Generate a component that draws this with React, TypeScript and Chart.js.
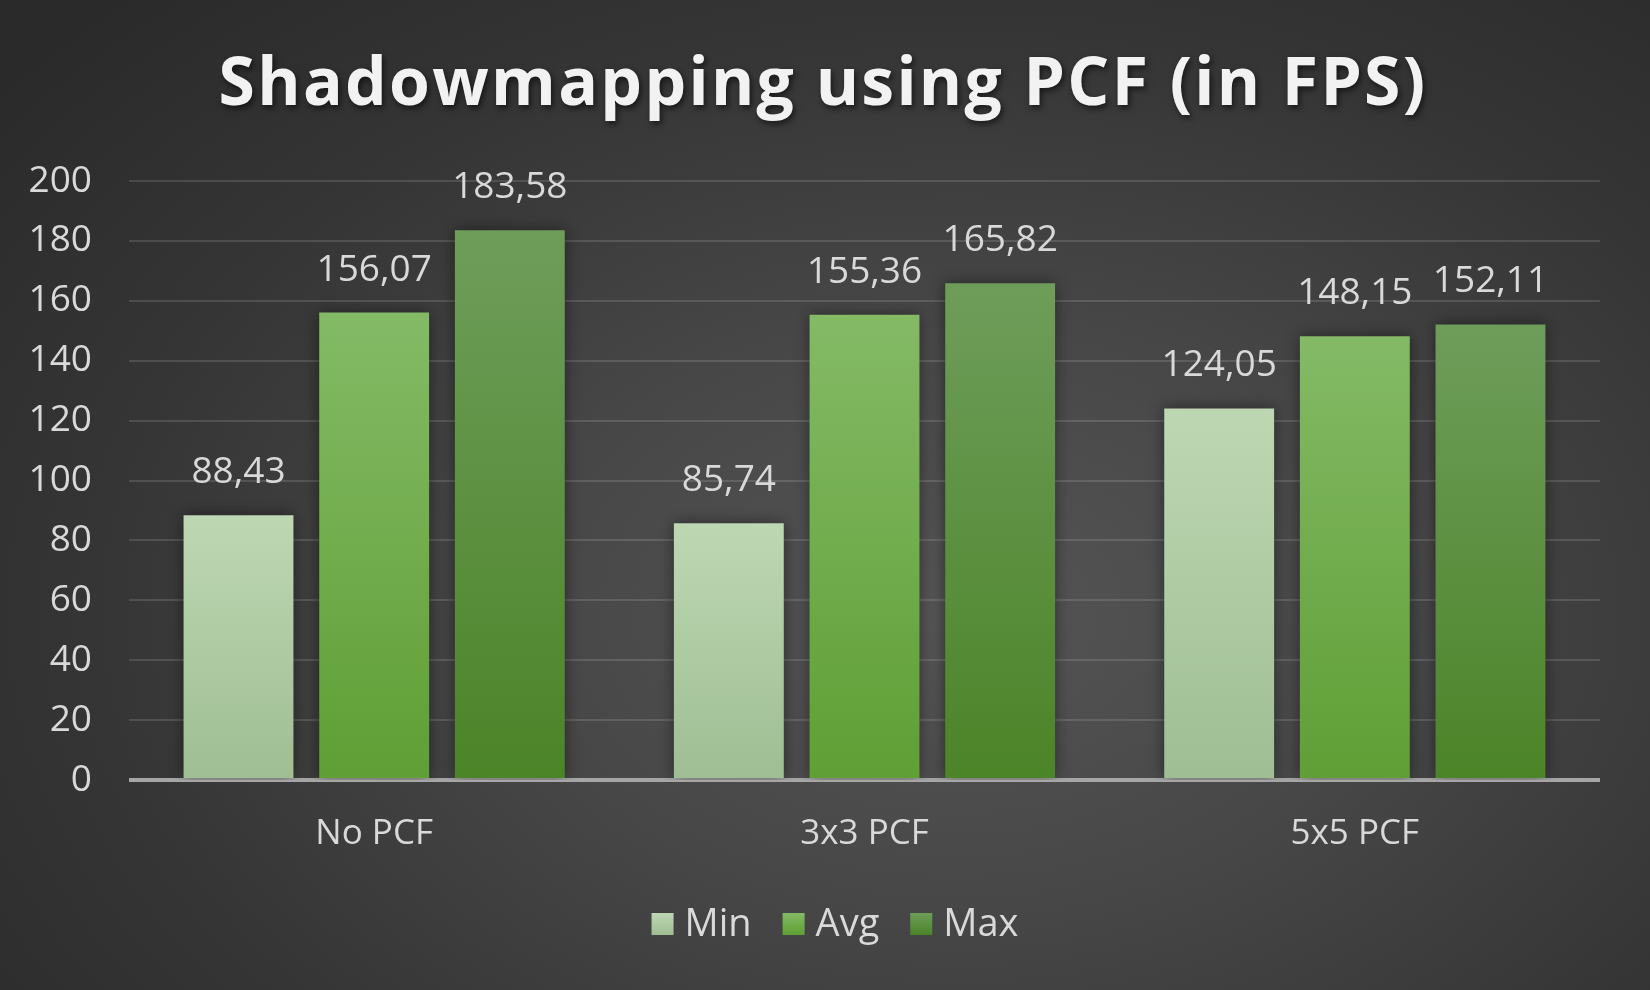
import React, { useEffect, useRef } from "react";
import { Chart, registerables } from "chart.js";

Chart.register(...registerables);

const categories = ["No PCF", "3x3 PCF", "5x5 PCF"];
const minValues = [88.43, 85.74, 124.05];
const avgValues = [156.07, 155.36, 148.15];
const maxValues = [183.58, 165.82, 152.11];
const seriesNames = ["Min", "Avg", "Max"];
const yTicks = [0, 20, 40, 60, 80, 100, 120, 140, 160, 180, 200];
const titleText = "Shadowmapping using PCF (in FPS)";

const FONT = "'Open Sans', 'Noto Sans', sans-serif";
const TEXT = "#d9d9d9";

const gradStops: [string, string][] = [
  ["#bdd7b3", "#9fbe93"],
  ["#84ba66", "#5f9f35"],
  ["#6e9d5a", "#4c8428"],
];

function barFill(idx: number) {
  return (ctx: any) => {
    const chart = ctx.chart;
    const y = chart.scales?.y;
    if (!chart.chartArea || !y || ctx.raw == null) return gradStops[idx][0];
    const top = y.getPixelForValue(ctx.raw);
    const bottom = y.getPixelForValue(0);
    if (!isFinite(top) || !isFinite(bottom) || top === bottom) return gradStops[idx][0];
    const g = chart.ctx.createLinearGradient(0, top, 0, bottom);
    g.addColorStop(0, gradStops[idx][0]);
    g.addColorStop(1, gradStops[idx][1]);
    return g;
  };
}

const shadowPlugin = {
  id: "barShadow",
  beforeDatasetsDraw(chart: any) {
    const c = chart.ctx;
    c.save();
    c.shadowColor = "rgba(0,0,0,0.45)";
    c.shadowBlur = 14;
    c.shadowOffsetX = 0;
    c.shadowOffsetY = 0;
  },
  afterDatasetsDraw(chart: any) {
    chart.ctx.restore();
  },
};

const labelPlugin = {
  id: "valueLabels",
  afterDatasetsDraw(chart: any) {
    const c = chart.ctx;
    c.save();
    c.font = `37px ${FONT}`;
    c.fillStyle = TEXT;
    c.textAlign = "center";
    c.textBaseline = "alphabetic";
    chart.data.datasets.forEach((ds: any, di: number) => {
      const meta = chart.getDatasetMeta(di);
      meta.data.forEach((bar: any, i: number) => {
        const v = ds.data[i];
        const txt = v.toFixed(2).replace(".", ",");
        c.fillText(txt, bar.x, bar.y - 32);
      });
    });
    c.restore();
  },
};

const titlePlugin = {
  id: "spacedTitle",
  afterDraw(chart: any) {
    const c = chart.ctx;
    c.save();
    c.font = `bold 66px ${FONT}`;
    (c as any).letterSpacing = "2.3px";
    c.fillStyle = "#f2f2f2";
    c.textAlign = "center";
    c.textBaseline = "alphabetic";
    c.shadowColor = "rgba(0,0,0,0.6)";
    c.shadowBlur = 6;
    c.shadowOffsetX = 2;
    c.shadowOffsetY = 3;
    c.fillText(titleText, chart.width / 2 - 2, 105);
    c.restore();
  },
};

const legendPlugin = {
  id: "customLegend",
  afterDraw(chart: any) {
    const c = chart.ctx;
    c.save();
    c.font = `38px ${FONT}`;
    const box = 22;
    const gap = 11;
    const spacing = 31;
    const items = chart.data.datasets.map((ds: any, i: number) => ({
      text: ds.label,
      color: gradStops[i],
      w: c.measureText(ds.label).width,
    }));
    const total =
      items.reduce((s: number, it: any) => s + box + gap + it.w, 0) + spacing * (items.length - 1);
    let x = chart.width / 2 + 10 - total / 2;
    const cy = 924;
    c.textBaseline = "middle";
    c.textAlign = "left";
    items.forEach((it: any) => {
      const g = c.createLinearGradient(0, cy - box / 2, 0, cy + box / 2);
      g.addColorStop(0, it.color[0]);
      g.addColorStop(1, it.color[1]);
      c.fillStyle = g;
      c.fillRect(x, cy - box / 2, box, box);
      x += box + gap;
      c.fillStyle = TEXT;
      c.fillText(it.text, x, cy + 1);
      x += it.w + spacing;
    });
    c.restore();
  },
};

export default function App() {
  const ref = useRef<HTMLCanvasElement | null>(null);

  useEffect(() => {
    if (!ref.current) return;
    const chart = new Chart(ref.current, {
      type: "bar",
      data: {
        labels: categories,
        datasets: [minValues, avgValues, maxValues].map((vals, i) => ({
          label: seriesNames[i],
          data: vals,
          backgroundColor: barFill(i),
          borderWidth: 0,
          categoryPercentage: 0.83,
          barPercentage: 0.81,
        })),
      },
      options: {
        animation: false,
        responsive: false,
        maintainAspectRatio: false,
        layout: { padding: { left: 0, right: 50, top: 181, bottom: 102 } },
        plugins: {
          title: { display: false },
          legend: { display: false },
          tooltip: { enabled: false },
        },
        scales: {
          x: {
            grid: { display: false, drawTicks: false },
            border: { display: false },
            ticks: { color: TEXT, font: { family: FONT, size: 35 }, padding: 33 },
          },
          y: {
            min: 0,
            max: 200,
            afterBuildTicks: (axis: any) => {
              axis.ticks = yTicks.map((v) => ({ value: v }));
            },
            afterFit: (axis: any) => {
              axis.width = 129;
            },
            grid: {
              drawTicks: false,
              color: (ctx: any) => (ctx.tick && ctx.tick.value === 0 ? "#a6a6a6" : "rgba(255,255,255,0.13)"),
              lineWidth: (ctx: any) => (ctx.tick && ctx.tick.value === 0 ? 4 : 2),
            },
            border: { display: false },
            ticks: { color: TEXT, font: { family: FONT, size: 37 }, padding: 37 },
          },
        },
      },
      plugins: [shadowPlugin, labelPlugin, titlePlugin, legendPlugin],
    } as any);
    return () => chart.destroy();
  }, []);

  return (
    <div
      style={{
        position: "fixed",
        left: 0,
        top: 0,
        width: 1650,
        height: 990,
        background:
          "radial-gradient(ellipse 75% 85% at 58% 62%, #555555 0%, #474747 35%, #353535 70%, #2a2a2a 100%)",
      }}
    >
      <canvas ref={ref} width={1650} height={990} style={{ display: "block" }} />
    </div>
  );
}
